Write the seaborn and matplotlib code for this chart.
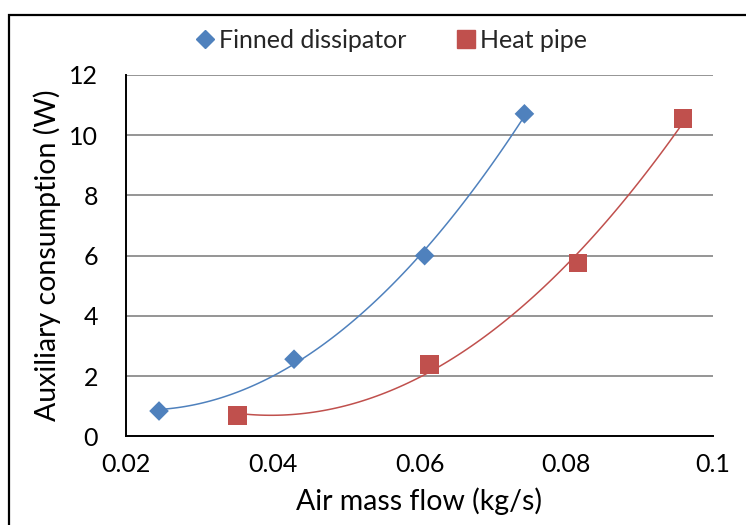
import matplotlib
matplotlib.use("Agg")
import matplotlib.pyplot as plt
import seaborn as sns
import numpy as np
import pandas as pd
from matplotlib.lines import Line2D
from matplotlib.patches import Rectangle

finned_x = [0.0245, 0.0429, 0.0607, 0.0743]
finned_y = [0.84, 2.56, 6.0, 10.71]
heat_x = [0.0352, 0.0614, 0.0816, 0.0959]
heat_y = [0.70, 2.39, 5.75, 10.56]
series_names = ["Finned dissipator", "Heat pipe"]
x_ticks = [0.02, 0.04, 0.06, 0.08, 0.1]
x_tick_labels = ["0.02", "0.04", "0.06", "0.08", "0.1"]
y_ticks = [0, 2, 4, 6, 8, 10, 12]

blue = "#4F81BD"
red = "#C0504D"

sns.set_theme(style="white")
plt.rcParams["font.family"] = ["Lato", "DejaVu Sans"]

W, H = 746, 525
fig = plt.figure(figsize=(W / 100, H / 100), dpi=100)
ax = fig.add_axes([126 / W, 1 - 436.3 / H, (713 - 126) / W, (436.3 - 75) / H])

df_f = pd.DataFrame({"x": finned_x, "y": finned_y})
df_h = pd.DataFrame({"x": heat_x, "y": heat_y})

for df, col, mk, ms in [(df_f, blue, "D", 100), (df_h, red, "s", 180)]:
    sns.regplot(data=df, x="x", y="y", order=2, ci=None, truncate=True, ax=ax,
                color=col, marker=mk,
                scatter_kws={"s": ms, "edgecolor": "none", "alpha": 1, "zorder": 4},
                line_kws={"lw": 1.1, "zorder": 3})

ax.set_xlim(0.02, 0.1)
ax.set_ylim(0, 12)
ax.set_xticks(x_ticks)
ax.set_xticklabels(x_tick_labels)
ax.set_yticks(y_ticks)
ax.yaxis.grid(True, color="#8C8C8C", lw=1.3)
ax.xaxis.grid(False)
for s in ["top", "right"]:
    ax.spines[s].set_visible(False)
for s in ["left", "bottom"]:
    ax.spines[s].set_color("black")
    ax.spines[s].set_linewidth(1.4)
ax.tick_params(axis="both", labelsize=18, colors="black", length=0)
ax.tick_params(axis="x", pad=12)
ax.tick_params(axis="y", pad=20)
ax.set_xlabel("Air mass flow (kg/s)", fontsize=20.5, color="black", labelpad=8)
ax.set_ylabel("Auxiliary consumption (W)", fontsize=20.5, color="black", labelpad=6)

handles = [
    Line2D([], [], marker="D", color=blue, ls="none", markersize=9.5),
    Line2D([], [], marker="s", color=red, ls="none", markersize=13),
]
fig.legend(handles, series_names, loc="center", bbox_to_anchor=(390 / W, 1 - 40 / H),
           ncol=2, frameon=False, fontsize=18, handletextpad=0.05, columnspacing=1.9,
           handlelength=1.0)

fig.patches.append(Rectangle((9 / W, -0.1), 1.2, 1 - 15 / H + 0.1, transform=fig.transFigure,
                             fill=False, edgecolor="black", lw=1.6))

fig.savefig("out.png", dpi=100, facecolor="white")
